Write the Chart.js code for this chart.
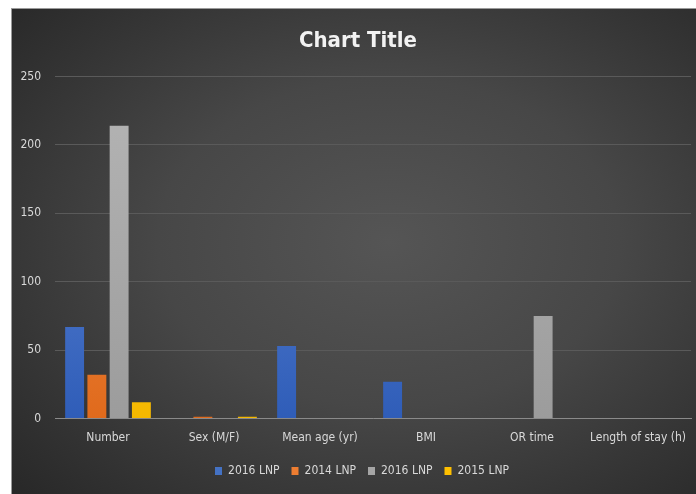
<!DOCTYPE html>
<html>
<head>
<meta charset="utf-8">
<script src="https://cdn.jsdelivr.net/npm/chart.js@4"></script>
<style>
  html, body { margin: 0; padding: 0; background: #ffffff; }
  #wrap {
    position: absolute; left: 11px; top: 8px; width: 685px; height: 486px;
    border-top: 1px solid #9a9a9a; border-left: 1px solid #9a9a9a;
    background: radial-gradient(ellipse 75% 75% at 55% 48%, #555555 0%, #474747 45%, #333333 80%, #282828 100%);
  }
  #chartCanvas { display: block; }
</style>
</head>
<body>
<div id="wrap"><canvas id="chartCanvas" width="684" height="485"></canvas></div>
<script>
// 데이터
var categories = ["Number", "Sex (M/F)", "Mean age (yr)", "BMI", "OR time", "Length of stay (h)"];
var seriesNames = ["2016 LNP", "2014 LNP", "2016 LNP", "2015 LNP"];
var blueValues = [67, 0, 53, 27, 0, 0];
var orangeValues = [32, 1.4, 0, 0, 0, 0];
var grayValues = [214, 0, 0, 0, 75, 0];
var yellowValues = [12, 1.4, 0, 0, 0, 0];
var yTicks = [0, 50, 100, 150, 200, 250];

var fontFamily = "'Liberation Sans Narrow', 'DejaVu Sans Condensed', 'Liberation Sans', sans-serif";

// 막대 그라데이션 (위쪽이 조금 밝음)
function barGradient(top, bottom) {
    return function(context) {
        var chart = context.chart;
        var area = chart.chartArea;
        if (!area) return bottom;
        var g = chart.ctx.createLinearGradient(0, area.top, 0, area.bottom);
        g.addColorStop(0, top);
        g.addColorStop(1, bottom);
        return g;
    };
}

var colors = [
    { top: "#6a90dc", bottom: "#2f5db8", flat: "#4472c4" },
    { top: "#f59a5a", bottom: "#e06a1c", flat: "#ed7d31" },
    { top: "#b5b5b5", bottom: "#9c9c9c", flat: "#a5a5a5" },
    { top: "#ffd22e", bottom: "#f5b800", flat: "#ffc000" }
];
var allValues = [blueValues, orangeValues, grayValues, yellowValues];

var datasets = allValues.map(function(vals, i) {
    return {
        label: seriesNames[i],
        data: vals,
        backgroundColor: barGradient(colors[i].top, colors[i].bottom),
        borderWidth: 0,
        categoryPercentage: 0.84,
        barPercentage: 0.85
    };
});

// 제목과 범례를 원본처럼 약간 오른쪽으로 이동
var shiftPlugin = {
    id: "shiftBlocks",
    afterLayout: function(chart) {
        if (chart.titleBlock) {
            chart.titleBlock.left += 5;
            chart.titleBlock.right += 5;
        }
        if (chart.legend) {
            chart.legend.left += 9;
            chart.legend.right += 9;
        }
    }
};

var ctx = document.getElementById("chartCanvas").getContext("2d");
window.myChart = new Chart(ctx, {
    type: "bar",
    data: { labels: categories, datasets: datasets },
    plugins: [shiftPlugin],
    options: {
        responsive: false,
        animation: false,
        layout: { padding: { left: 3, right: 5, top: 6, bottom: 7 } },
        plugins: {
            title: {
                display: true,
                text: "Chart Title",
                color: "#f2f2f2",
                font: { family: fontFamily, size: 22, weight: "bold" },
                padding: { top: 13, bottom: 22 }
            },
            legend: {
                position: "bottom",
                labels: {
                    color: "#d9d9d9",
                    font: { family: fontFamily, size: 12 },
                    boxWidth: 7,
                    boxHeight: 8,
                    padding: 12,
                    generateLabels: function(chart) {
                        return chart.data.datasets.map(function(ds, i) {
                            return {
                                text: ds.label,
                                fillStyle: colors[i].flat,
                                strokeStyle: colors[i].flat,
                                lineWidth: 0,
                                fontColor: "#d9d9d9",
                                datasetIndex: i
                            };
                        });
                    }
                }
            },
            tooltip: { enabled: false }
        },
        scales: {
            x: {
                grid: { display: false, drawTicks: false },
                border: { display: true, color: "#8a8a8a", width: 1 },
                ticks: {
                    color: "#d9d9d9",
                    font: { family: fontFamily, size: 12 },
                    padding: 12,
                    maxRotation: 0
                },
                afterFit: function(scale) {
                    scale.height -= 4;
                    scale.paddingLeft = 0;
                    scale.paddingRight = 0;
                }
            },
            y: {
                min: 0,
                max: 250,
                afterBuildTicks: function(scale) {
                    scale.ticks = yTicks.map(function(v) { return { value: v }; });
                },
                grid: { color: "#5a5a5a", lineWidth: 1, drawTicks: false },
                border: { display: false },
                ticks: {
                    color: "#d9d9d9",
                    font: { family: fontFamily, size: 12 },
                    padding: 14
                },
                afterFit: function(scale) { scale.width = 40; }
            }
        }
    }
});
</script>
</body>
</html>
